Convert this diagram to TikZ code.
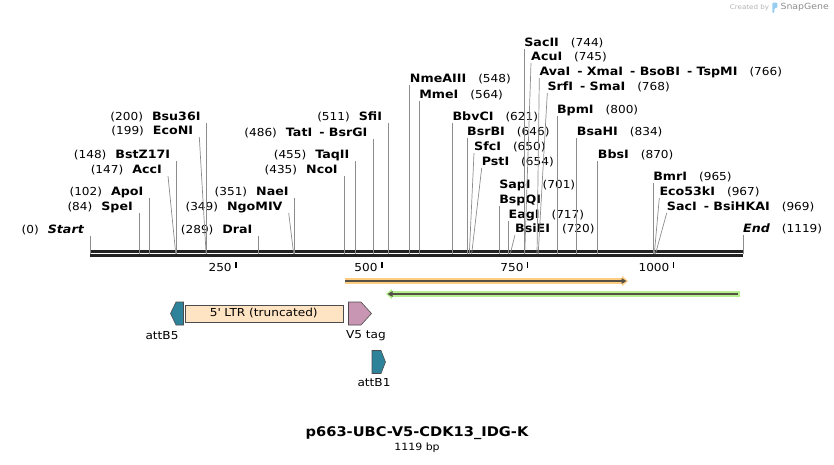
\documentclass[tikz,border=0pt]{standalone}
\usepackage{fontspec}
\setmainfont{DejaVu Sans}[FakeStretch=1.1]
\usetikzlibrary{arrows.meta,positioning}
\definecolor{sitegray}{RGB}{140,140,140}
\definecolor{bbgray}{RGB}{35,35,35}
\definecolor{attteal}{RGB}{46,130,153}
\definecolor{ltrpeach}{RGB}{255,228,196}
\definecolor{vfivepink}{RGB}{200,150,178}
\definecolor{orfor}{RGB}{255,205,130}
\definecolor{orfgr}{RGB}{182,240,142}
\definecolor{coregray}{RGB}{85,80,70}
\definecolor{snapblue}{RGB}{150,205,240}

\newcommand{\nm}[1]{{\bfseries\fontsize{11.5}{13}\selectfont #1}}
\newcommand{\bpx}[1]{90+0.58356*#1}

\tikzset{
    site/.style={draw=sitegray, line width=0.7pt},
    leftlab/.style={anchor=south east, inner xsep=6pt, inner ysep=2pt,
        text depth=0pt},
    rightlab/.style={anchor=south west, inner xsep=0pt, inner ysep=2pt,
        text depth=0pt},
    feat/.style={draw=black!70, line width=0.6pt},
    featlab/.style={inner sep=1pt}
}

\begin{document}
\begin{tikzpicture}[x=1pt, y=-1pt, font=\fontsize{11}{13}\selectfont]
    \useasboundingbox (0,0) rectangle (834,464);

    % backbone and ruler
    \coordinate (first) at ({\bpx{0}},255.3);
    \coordinate (last) at ({\bpx{1119}},255.3);
    \draw[bbgray, line width=2.7pt] (first) -- (last);
    \draw[bbgray, line width=2.7pt] ([yshift=4pt]first) -- ([yshift=4pt]last);
    \foreach \t in {250,500,750,1000} {
        \draw[black, line width=1.6pt] ({\bpx{\t}},262) -- ({\bpx{\t}},268);
        \node[anchor=east, inner sep=0pt] (tick\t) at ({\bpx{\t}-4},267) {\t};
    }

    % sites on the backbone
    \foreach \p in {0,84,102,147,148,199,200,289,349,351,435,455,486,511,
        548,564,621,646,650,654,701,717,720,744,745,766,768,800,834,870,
        965,967,969,1119}
        \coordinate (b\p) at ({\bpx{\p}},254);

    % labels left of their line
    \node[leftlab] (start) at ({\bpx{0}},236) {(0)\hspace{9pt}\nm{\itshape Start}};
    \node[leftlab] (speI) at ({\bpx{84}},213) {(84)\hspace{9pt}\nm{SpeI}};
    \node[leftlab] (apoI) at ({\bpx{102}},198) {(102)\hspace{9pt}\nm{ApoI}};
    \node[leftlab] (accI) at (168,176) {(147)\hspace{9pt}\nm{AccI}};
    \node[leftlab] (bstZ17I) at ({\bpx{148}},161) {(148)\hspace{9pt}\nm{BstZ17I}};
    \node[leftlab] (ecoNI) at (199.3,137) {(199)\hspace{9pt}\nm{EcoNI}};
    \node[leftlab] (bsu36I) at ({\bpx{200}},123) {(200)\hspace{9pt}\nm{Bsu36I}};
    \node[leftlab] (draI) at ({\bpx{289}},236) {(289)\hspace{9pt}\nm{DraI}};
    \node[leftlab] (ngoMIV) at (288.7,213) {(349)\hspace{9pt}\nm{NgoMIV}};
    \node[leftlab] (naeI) at ({\bpx{351}},198) {(351)\hspace{9pt}\nm{NaeI}};
    \node[leftlab] (ncoI) at ({\bpx{435}},176) {(435)\hspace{9pt}\nm{NcoI}};
    \node[leftlab] (taqII) at ({\bpx{455}},161) {(455)\hspace{9pt}\nm{TaqII}};
    \node[leftlab] (tatI) at ({\bpx{486}},139)
        {(486)\hspace{9pt}\nm{TatI\hspace{7pt}- BsrGI}};
    \node[leftlab] (sfiI) at ({\bpx{511}},123) {(511)\hspace{9pt}\nm{SfiI}};

    % labels right of their line
    \node[rightlab] (sacII) at ({\bpx{744}},49) {\nm{SacII}\hspace{12pt}(744)};
    \node[rightlab] (acuI) at (531,63) {\nm{AcuI}\hspace{12pt}(745)};
    \node[rightlab] (avaI) at (539.3,78)
        {\nm{AvaI\hspace{7pt}- XmaI\hspace{7pt}- BsoBI\hspace{7pt}- TspMI}\hspace{12pt}(766)};
    \node[rightlab] (srfI) at (547.3,93)
        {\nm{SrfI\hspace{7pt}- SmaI}\hspace{12pt}(768)};
    \node[rightlab] (nmeAIII) at ({\bpx{548}},85) {\nm{NmeAIII}\hspace{12pt}(548)};
    \node[rightlab] (mmeI) at ({\bpx{564}},101) {\nm{MmeI}\hspace{12pt}(564)};
    \node[rightlab] (bpmI) at ({\bpx{800}},116) {\nm{BpmI}\hspace{12pt}(800)};
    \node[rightlab] (bbvCI) at ({\bpx{621}},123) {\nm{BbvCI}\hspace{12pt}(621)};
    \node[rightlab] (bsrBI) at ({\bpx{646}},138) {\nm{BsrBI}\hspace{12pt}(646)};
    \node[rightlab] (bsaHI) at ({\bpx{834}},138) {\nm{BsaHI}\hspace{12pt}(834)};
    \node[rightlab] (sfcI) at (474,153) {\nm{SfcI}\hspace{12pt}(650)};
    \node[rightlab] (pstI) at (481.7,168) {\nm{PstI}\hspace{12pt}(654)};
    \node[rightlab] (bbsI) at ({\bpx{870}},161) {\nm{BbsI}\hspace{12pt}(870)};
    \node[rightlab] (sapI) at ({\bpx{701}},191) {\nm{SapI}\hspace{12pt}(701)};
    \node[rightlab] (bspQI) at ({\bpx{701}},206) {\nm{BspQI}};
    \node[rightlab] (eagI) at ({\bpx{717}},221) {\nm{EagI}\hspace{12pt}(717)};
    \node[rightlab] (bsiEI) at (515,235) {\nm{BsiEI}\hspace{12pt}(720)};
    \node[rightlab] (bmrI) at ({\bpx{965}},183) {\nm{BmrI}\hspace{12pt}(965)};
    \node[rightlab] (eco53kI) at (659.3,198) {\nm{Eco53kI}\hspace{12pt}(967)};
    \node[rightlab] (sacI) at (666.7,213)
        {\nm{SacI\hspace{7pt}- BsiHKAI}\hspace{12pt}(969)};
    \node[rightlab] (end) at ({\bpx{1119}},235) {\nm{\itshape End}\hspace{12pt}(1119)};

    % lines from labels to sites
    \foreach \lab/\p in {start/0, speI/84, apoI/102, accI/147, bstZ17I/148,
        ecoNI/199, bsu36I/200, draI/289, ngoMIV/349, naeI/351, ncoI/435,
        taqII/455, tatI/486, sfiI/511}
        \draw[site] (\lab.south east) -- (b\p);
    \foreach \lab/\p in {nmeAIII/548, mmeI/564, bbvCI/621, bsrBI/646,
        sfcI/650, pstI/654, bspQI/701, eagI/717, bsiEI/720, sacII/744,
        acuI/745, avaI/766, srfI/768, bpmI/800, bsaHI/834, bbsI/870,
        bmrI/965, eco53kI/967, sacI/969, end/1119}
        \draw[site] (\lab.south west) -- (b\p);

    % open reading frames
    \coordinate (orfA) at (345,281);
    \coordinate (orfB) at (628,281);
    \coordinate (orfC) at (740,294);
    \coordinate (orfD) at (386,294);
    \draw[orfor, line width=5.5pt, -{Triangle[length=6pt,width=10pt]}] (orfA) -- (orfB);
    \draw[coregray, line width=1.5pt, shorten >=1.5pt,
        -{Triangle[length=5pt,width=5.5pt]}] (orfA) -- (orfB);
    \draw[orfgr, line width=5.5pt, -{Triangle[length=6pt,width=10pt]}] (orfC) -- (orfD);
    \draw[coregray, line width=1.5pt, shorten >=1.5pt,
        -{Triangle[length=5pt,width=5.5pt]}] ([xshift=-2pt]orfC) -- (orfD);

    % features
    \draw[feat, fill=attteal] (170.5,313.5) -- (176,302) -- (183.5,302) -- (183.5,325)
        -- (176,325) -- cycle;
    \node[feat, fill=ltrpeach, minimum width=158pt, minimum height=17pt,
        inner sep=0pt, anchor=west] (ltr) at (184.5,313.5)
        {5\textquotesingle{} LTR (truncated)};
    \draw[feat, fill=vfivepink] (348.5,302) -- (361,302) -- (371.5,313.5) -- (361,325)
        -- (348.5,325) -- cycle;
    \draw[feat, fill=attteal] (372,350.5) -- (381,350.5) -- (385.5,362) -- (381,373.5)
        -- (372,373.5) -- cycle;
    \node[featlab] (attB5) at (162,336) {attB5};
    \node[featlab] (vfive) at (366,336) {V5 tag};
    \node[featlab] (attB1) at (374,383) {attB1};

    % title
    \node[font=\bfseries\fontsize{13.3}{15}\selectfont] (title) at (417,433)
        {p663-UBC-V5-CDK13\_IDG-K};
    \node[font=\fontsize{10}{12}\selectfont] (size) at (417,448) {1119 bp};

    % watermark
    \node[anchor=east, text=black!45, font=\fontsize{8.5}{10}\selectfont, inner sep=0pt]
        (snapgene) at (829,7.5) {SnapGene};
    \fill[snapblue, rounded corners=1pt] ([xshift=-8pt,yshift=5pt]snapgene.west)
        -- ++(5,0) -- ++(0,5.5) -- ++(-3,0) -- ++(0,5) -- ++(-2,0) -- cycle;
    \node[anchor=east, text=black!30, font=\fontsize{6.5}{8}\selectfont, inner sep=0pt]
        (created) at ([xshift=-11pt]snapgene.west) {Created by};
\end{tikzpicture}
\end{document}
